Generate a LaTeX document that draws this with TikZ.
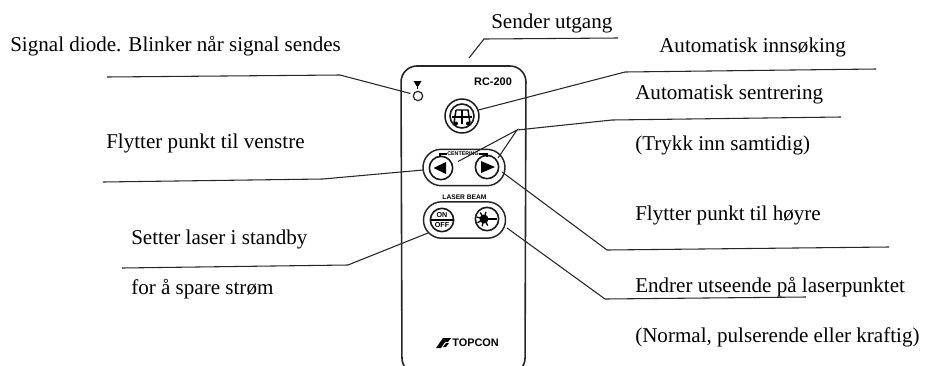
\documentclass[tikz,border=0pt]{standalone}
\usepackage{fontspec}
\setmainfont{Liberation Serif}
\newfontfamily\panelfont{Liberation Sans}
\usetikzlibrary{shapes,arrows,positioning,calc,arrows.meta}
\tikzset{
    txtlabel/.style={anchor=base west, inner sep=0pt, font=\fontsize{15.8}{18}\selectfont},
    leader/.style={line width=0.8pt, black!85},
    bodyline/.style={line width=1.2pt, black!85},
    pill/.style={draw=black!85, line width=1.1pt, inner sep=0pt, minimum height=27.3pt, minimum width=61.5pt, rounded corners=13.6pt},
    btnring/.style={circle, draw=black!90, line width=1.2pt, inner sep=0pt, minimum size=17.5pt},
    pilltxt/.style={inner sep=0pt, font=\panelfont\bfseries\fontsize{5}{6}\selectfont}
}
\begin{document}
\begin{tikzpicture}[x=0.75pt, y=-0.75pt]
    \useasboundingbox (0,0) rectangle (925,365);
    % remote body, cut by the lower edge
    \begin{scope}
        \clip (0,0) rectangle (925,365);
        \draw [bodyline, rounded corners=12pt] (402,374) -- (401,66) -- (526,66) -- (525,374) -- cycle;
    \end{scope}
    \node [pill] (centerpill) at (464,167.5) {};
    \node [pill] (beampill) at (464.5,220) {};
    % buttons and diode
    \node [circle, draw=black!85, line width=0.9pt, inner sep=0pt, minimum size=7pt] (diode) at (418,96) {};
    \node [circle, draw=black!90, line width=1.1pt, inner sep=0pt, minimum size=25.5pt] (scan) at (462,116) {};
    \node [btnring] (left) at (441,168) {};
    \node [btnring] (right) at (487,167) {};
    \node [btnring] (onoff) at (442,220) {};
    \node [btnring] (beam) at (487,219) {};
    % symbols
    \fill (413.5,81) -- (421.5,81) -- (418.5,86) -- (416.5,86) -- cycle;
    \draw [line width=0.8pt] (417.5,84) -- (417.5,89);
    \fill (433.5,168) -- (446,162) -- (446,174) -- cycle;
    \fill (495,167) -- (481,161) -- (481,173) -- cycle;
    \node [circle, draw=black!90, line width=1.2pt, inner sep=0pt, minimum size=18pt] (scanin) at (462,116) {};
    \draw [line width=1.1pt] (456,110) -- (468,110) -- (470,123) (456,110) -- (454,123);
    \draw [line width=1.1pt] (452,117) -- (472,117) (462,110) -- (462,124);
    \fill (456,123.5) circle (2) (468,123.5) circle (2);
    \draw [line width=1pt] (431,220) -- (453,220);
    \node [pilltxt, font=\panelfont\bfseries\fontsize{5.4}{6}\selectfont] (ontxt) at (442,215) {ON};
    \node [pilltxt, font=\panelfont\bfseries\fontsize{5.4}{6}\selectfont] (offtxt) at (442,225.5) {OFF};
    \fill (484,219) circle (4.5);
    \foreach \ang in {60,105,...,300} \draw [line width=1pt] (484,219) -- ++(\ang:7.5);
    \draw [line width=1.1pt] (484,219) -- (497,219);
    % panel print
    \node [inner sep=0pt, font=\panelfont\bfseries\fontsize{8.2}{9}\selectfont] (model) at (493,81.5) {RC-200};
    \node [pilltxt, font=\panelfont\bfseries\fontsize{4}{5}\selectfont] (centertxt) at (463,154) {CENTERING};
    \draw [line width=0.8pt] (440,157) -- (440,154) -- (447,154);
    \draw [line width=0.8pt] (479,154) -- (487,154) -- (487,157);
    \node [pilltxt] (beamtxt) at (464.5,197) {LASER BEAM};
    \fill (436,348) -- (443,338) -- (451,338) -- (448,342) -- (445,342) -- (441,348) -- cycle;
    \fill (443,347) -- (446,343) -- (449,343) -- (446,347) -- cycle;
    \node [anchor=base west, inner sep=0pt, font=\panelfont\bfseries\fontsize{8.2}{9}\selectfont] (brand) at (452,346) {TOPCON};
    % labels
    \node [txtlabel] (tsignal) at (10,51) {Signal diode. Blinker når signal sendes};
    \node [txtlabel] (tsender) at (491,28) {Sender utgang};
    \node [txtlabel] (tinn) at (659,52) {Automatisk innsøking};
    \node [txtlabel] (tsent) at (635,99) {Automatisk sentrering};
    \node [txtlabel] (ttrykk) at (635,150) {(Trykk inn samtidig)};
    \node [txtlabel] (tvenstre) at (106,148) {Flytter punkt til venstre};
    \node [txtlabel] (thoyre) at (635,220) {Flytter punkt til høyre};
    \node [txtlabel] (tsetter) at (131,244) {Setter laser i standby};
    \node [txtlabel] (tspare) at (131,294) {for å spare strøm};
    \node [txtlabel] (tendrer) at (635,292) {Endrer utseende på laserpunktet};
    \node [txtlabel] (tnormal) at (635,342) {(Normal, pulserende eller kraftig)};
    % leader ends and knees
    \coordinate (sendertip) at (469,58);
    \coordinate (sendera) at (484,39);
    \coordinate (senderb) at (618,38);
    \coordinate (signala) at (107,77);
    \coordinate (signalb) at (340,75);
    \coordinate (inna) at (625,72);
    \coordinate (innb) at (876,69);
    \coordinate (fork) at (517,130);
    \coordinate (forka) at (458,161.5);
    \coordinate (forkb) at (498,158);
    \coordinate (senta) at (612,120);
    \coordinate (sentb) at (841,117);
    \coordinate (venstrea) at (103,182);
    \coordinate (venstreb) at (323,179);
    \coordinate (lefttip) at (423,170);
    \coordinate (righttip) at (502,172);
    \coordinate (hoyrea) at (607,250);
    \coordinate (hoyreb) at (889,247);
    \coordinate (settera) at (122,268);
    \coordinate (setterb) at (348,265);
    \coordinate (onofftip) at (428,233);
    \coordinate (beamtip) at (507,228);
    \coordinate (endrera) at (605,299);
    \coordinate (endrerb) at (806,297);
    \draw [leader] (sendertip) -- (sendera) -- (senderb);
    \draw [leader, shorten >=2pt] (signala) -- (signalb) -- (diode.160);
    \draw [leader] (scan.20) -- (inna) -- (innb);
    \draw [leader] (forka) -- (fork) -- (forkb);
    \draw [leader] (fork) -- (senta) -- (sentb);
    \draw [leader] (venstrea) -- (venstreb) -- (lefttip);
    \draw [leader] (righttip) -- (hoyrea) -- (hoyreb);
    \draw [leader] (settera) -- (setterb) -- (onofftip);
    \draw [leader] (beamtip) -- (endrera) -- (endrerb);
\end{tikzpicture}
\end{document}
